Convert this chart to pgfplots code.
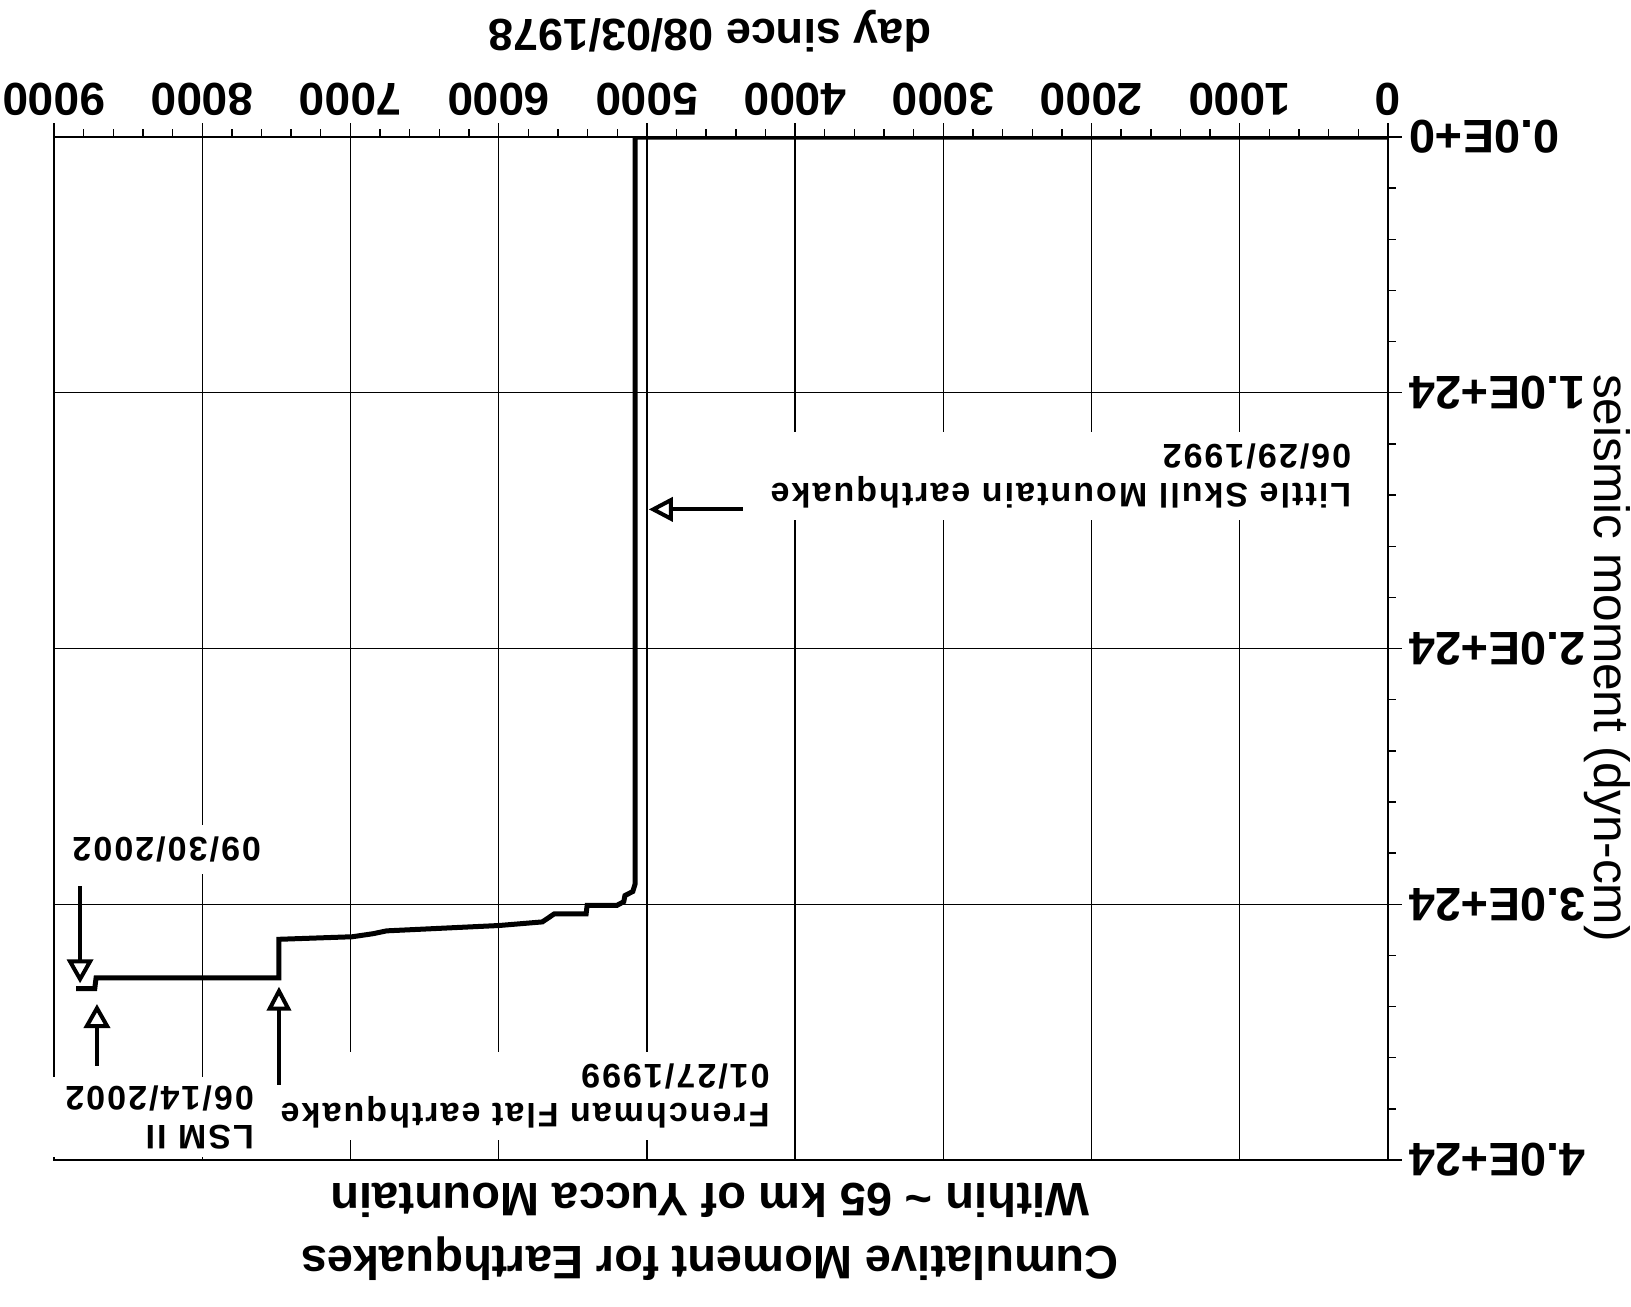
\documentclass[border=0pt]{standalone}
\usepackage{fontspec}
\setmainfont{Liberation Sans}
\usepackage{pgfplots}
\pgfplotsset{compat=1.18}
\usetikzlibrary{arrows.meta}
\newcommand{\ann}{\bfseries\fontsize{17}{19.5}\selectfont\addfontfeature{LetterSpace=6}}
\begin{document}
\begin{tikzpicture}
\begin{axis}[
  scale only axis, width=667pt, height=511.5pt,
  xmin=0, xmax=9000, ymin=0, ymax=4,
  x dir=reverse, y dir=reverse,
  clip mode=individual,
  xtick={0,1000,2000,3000,4000,5000,6000,7000,8000,9000},
  xticklabels={0,1000,2000,3000,4000,5000,6000,7000,8000,9000},
  ytick={0,1,2,3,4},
  yticklabels={0.0E+0,1.0E+24,2.0E+24,3.0E+24,4.0E+24},
  minor x tick num=4, minor y tick num=4,
  xtick pos=right, ytick pos=right,
  xticklabel pos=right, yticklabel pos=right,
  tick align=outside,
  major tick length=7pt, minor tick length=4pt,
  grid=major,
  major grid style={line width=0.7pt, black},
  axis line style={line width=1pt, black},
  every tick/.style={line width=0.7pt, black},
  xticklabel style={font=\bfseries\fontsize{23}{23}\selectfont, rotate=180, anchor=north},
  yticklabel style={font=\bfseries\fontsize{23.5}{23.5}\selectfont, rotate=180, anchor=east},
]
\addplot[line width=2.5pt, black, line join=miter] coordinates {
(0,0) (5079,0) (5079,2.92) (5095,2.95) (5148,2.966) (5156,2.99) (5201,3.004)
(5403,3.004) (5410,3.038) (5626,3.038) (5705,3.069) (5995,3.083) (6756,3.104)
(6846,3.115) (6987,3.127) (7482,3.137) (7482,3.288) (8716,3.288) (8725,3.33) (8850,3.33)
};
% annotations
\node[xshift=8pt, yshift=-6pt, rotate=180, anchor=north west, align=left, fill=white, inner xsep=8pt, inner ysep=6pt, font=\ann] at (axis cs:246,1.452) {Little Skull Mountain earthquake\\06/29/1992};
\node[xshift=8pt, yshift=-6pt, rotate=180, anchor=north west, align=left, fill=white, inner xsep=8pt, inner ysep=6pt, font=\ann] at (axis cs:4169,3.877) {Frenchman Flat earthquake\\01/27/1999};
\node[xshift=8pt, yshift=-4pt, rotate=180, anchor=north west, align=left, fill=white, inner xsep=8pt, inner ysep=4pt, font=\ann] at (axis cs:7649,3.958) {LSM II\\06/14/2002};
\node[xshift=8pt, yshift=-6pt, rotate=180, anchor=north west, align=left, fill=white, inner xsep=8pt, inner ysep=6pt, font=\ann] at (axis cs:7601,2.836) {09/30/2002};
\draw[line width=2pt, -{Triangle[open, length=12pt, width=12pt]}] (axis cs:4353,1.456) -- (axis cs:4987,1.456);
\draw[line width=2pt, -{Triangle[open, length=12pt, width=12pt]}] (axis cs:7482,3.705) -- (axis cs:7482,3.322);
\draw[line width=2pt, -{Triangle[open, length=12pt, width=13pt]}] (axis cs:8710,3.632) -- (axis cs:8710,3.39);
\draw[line width=2pt, -{Triangle[open, length=12pt, width=13pt]}] (axis cs:8824,2.93) -- (axis cs:8824,3.309);
% outer labels
\node[yshift=53pt, rotate=180, font=\bfseries\fontsize{22.5}{22.5}\selectfont] at (axis cs:4574,0) {day since 08/03/1978};
\node[yshift=-36pt, rotate=180, align=center, font=\bfseries\fontsize{23.5}{31.5}\selectfont] at (axis cs:4574,4) {Cumulative Moment for Earthquakes\\Within \textasciitilde\ 65 km of Yucca Mountain};
\node[xshift=109.5pt, rotate=-90, font=\fontsize{24.8}{24.8}\selectfont] at (axis cs:0,2.037) {seismic moment (dyn-cm)};
\coordinate (TR) at (axis cs:0,0);
\coordinate (BL) at (axis cs:9000,4);
\end{axis}
\pgfresetboundingbox
\path[use as bounding box] ([shift={(-27pt,-73pt)}]BL) rectangle ([shift={(121.5pt,68.5pt)}]TR);
\end{tikzpicture}
\end{document}
